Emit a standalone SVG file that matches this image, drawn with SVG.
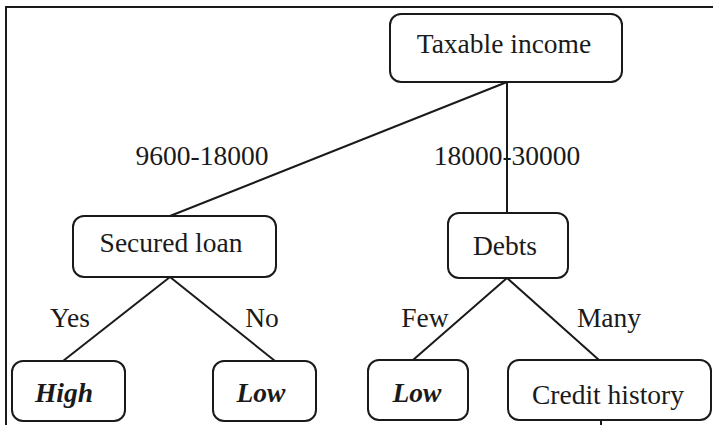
<svg xmlns="http://www.w3.org/2000/svg" width="713" height="425" viewBox="0 0 713 425">
<style>
.box{fill:#fff;stroke:#1a1a1a;stroke-width:2}
.t{font-family:"Liberation Serif","Times New Roman",serif;font-size:27.5px;fill:#1a1a1a;text-anchor:middle}
.bi{font-weight:bold;font-style:italic}
.edge{stroke:#1a1a1a;stroke-width:2;fill:none}
</style>
<rect width="713" height="425" fill="#fff"/>
<path d="M6 425 V7 H713" class="edge"/>
<g id="connectors">
<line class="edge" x1="507" y1="82" x2="170" y2="216"/>
<line class="edge" x1="507" y1="82" x2="507" y2="213"/>
<line class="edge" x1="170" y1="277" x2="63" y2="361"/>
<line class="edge" x1="170" y1="277" x2="275" y2="361"/>
<line class="edge" x1="507" y1="278" x2="413" y2="360"/>
<line class="edge" x1="507" y1="278" x2="599" y2="360"/>
<line class="edge" x1="601" y1="420" x2="601" y2="425"/>
<text class="t" x="202" y="165">9600-18000</text>
<text class="t" x="507" y="165">18000-30000</text>
<text class="t" x="70" y="327">Yes</text>
<text class="t" x="262" y="327">No</text>
<text class="t" x="425" y="327">Few</text>
<text class="t" x="609" y="327">Many</text>
</g>
<g id="taxable-income">
<rect class="box" x="390" y="14" width="232" height="68" rx="11"/>
<text class="t" x="504" y="53">Taxable income</text>
</g>
<g id="secured-loan">
<rect class="box" x="73" y="216" width="203" height="61" rx="11"/>
<text class="t" x="171" y="252">Secured loan</text>
</g>
<g id="debts">
<rect class="box" x="448" y="213" width="120" height="65" rx="11"/>
<text class="t" x="505" y="255">Debts</text>
</g>
<g id="high">
<rect class="box" x="12" y="361" width="113" height="60" rx="11"/>
<text class="t bi" x="64" y="402">High</text>
</g>
<g id="low-1">
<rect class="box" x="213" y="361" width="103" height="60" rx="11"/>
<text class="t bi" x="261" y="402">Low</text>
</g>
<g id="low-2">
<rect class="box" x="368" y="360" width="100" height="60" rx="11"/>
<text class="t bi" x="417" y="402">Low</text>
</g>
<g id="credit-history">
<rect class="box" x="508" y="360" width="203" height="60" rx="11"/>
<text class="t" x="608" y="404">Credit history</text>
</g>
</svg>
